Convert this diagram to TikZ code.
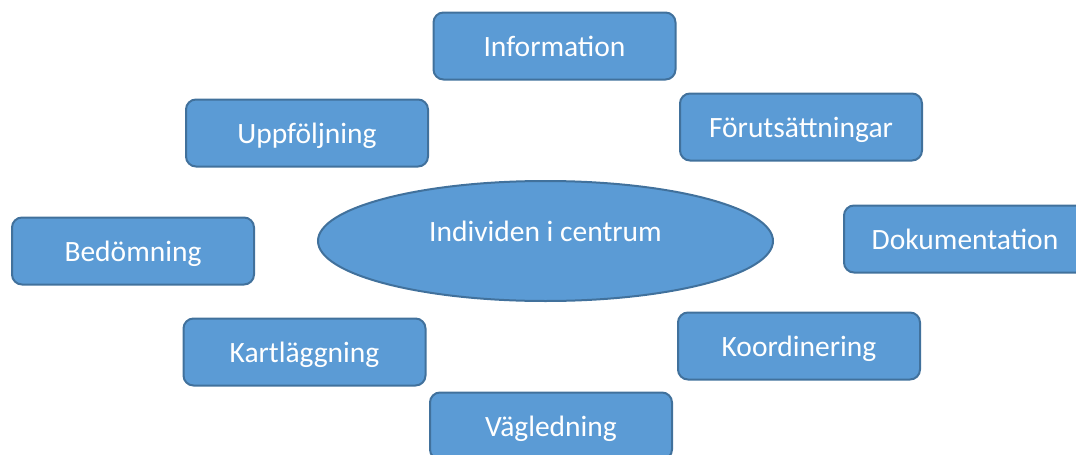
\documentclass[tikz,border=0pt]{standalone}
\usepackage{fontspec}
\setmainfont{Carlito}
\usetikzlibrary{shapes.geometric}
\definecolor{boxfill}{HTML}{5B9BD5}
\definecolor{boxline}{HTML}{41719C}
\tikzset{
  lbl/.style={text=white, font=\fontsize{29.5}{34}\selectfont,
    text height=20pt, text depth=0pt},
  box/.style={draw=boxline, fill=boxfill, line width=2pt, rounded corners=10pt,
    minimum width=242pt, minimum height=67pt, inner sep=0pt, lbl},
  oval/.style={draw=boxline, fill=boxfill, line width=2pt, ellipse,
    minimum width=455pt, minimum height=120pt, inner sep=0pt}
}
\begin{document}
\begin{tikzpicture}[x=1pt,y=-1pt]
\useasboundingbox (0,0) rectangle (1076,455);
\node[box] (info) at (554.5,46) {Information};
\node[box] (upp) at (307,133) {Uppföljning};
\node[box] (forut) at (801,127) {Förutsättningar};
\node[box] (bed) at (133,251) {Bedömning};
\node[oval] (ind) at (545.5,241) {};
\node[lbl] (indtext) at (545.5,231) {Individen i centrum};
\node[box] (dok) at (965,239) {Dokumentation};
\node[box] (kart) at (304.5,352) {Kartläggning};
\node[box] (koord) at (799,346) {Koordinering};
\node[box] (vag) at (551,426) {Vägledning};
\end{tikzpicture}
\end{document}
